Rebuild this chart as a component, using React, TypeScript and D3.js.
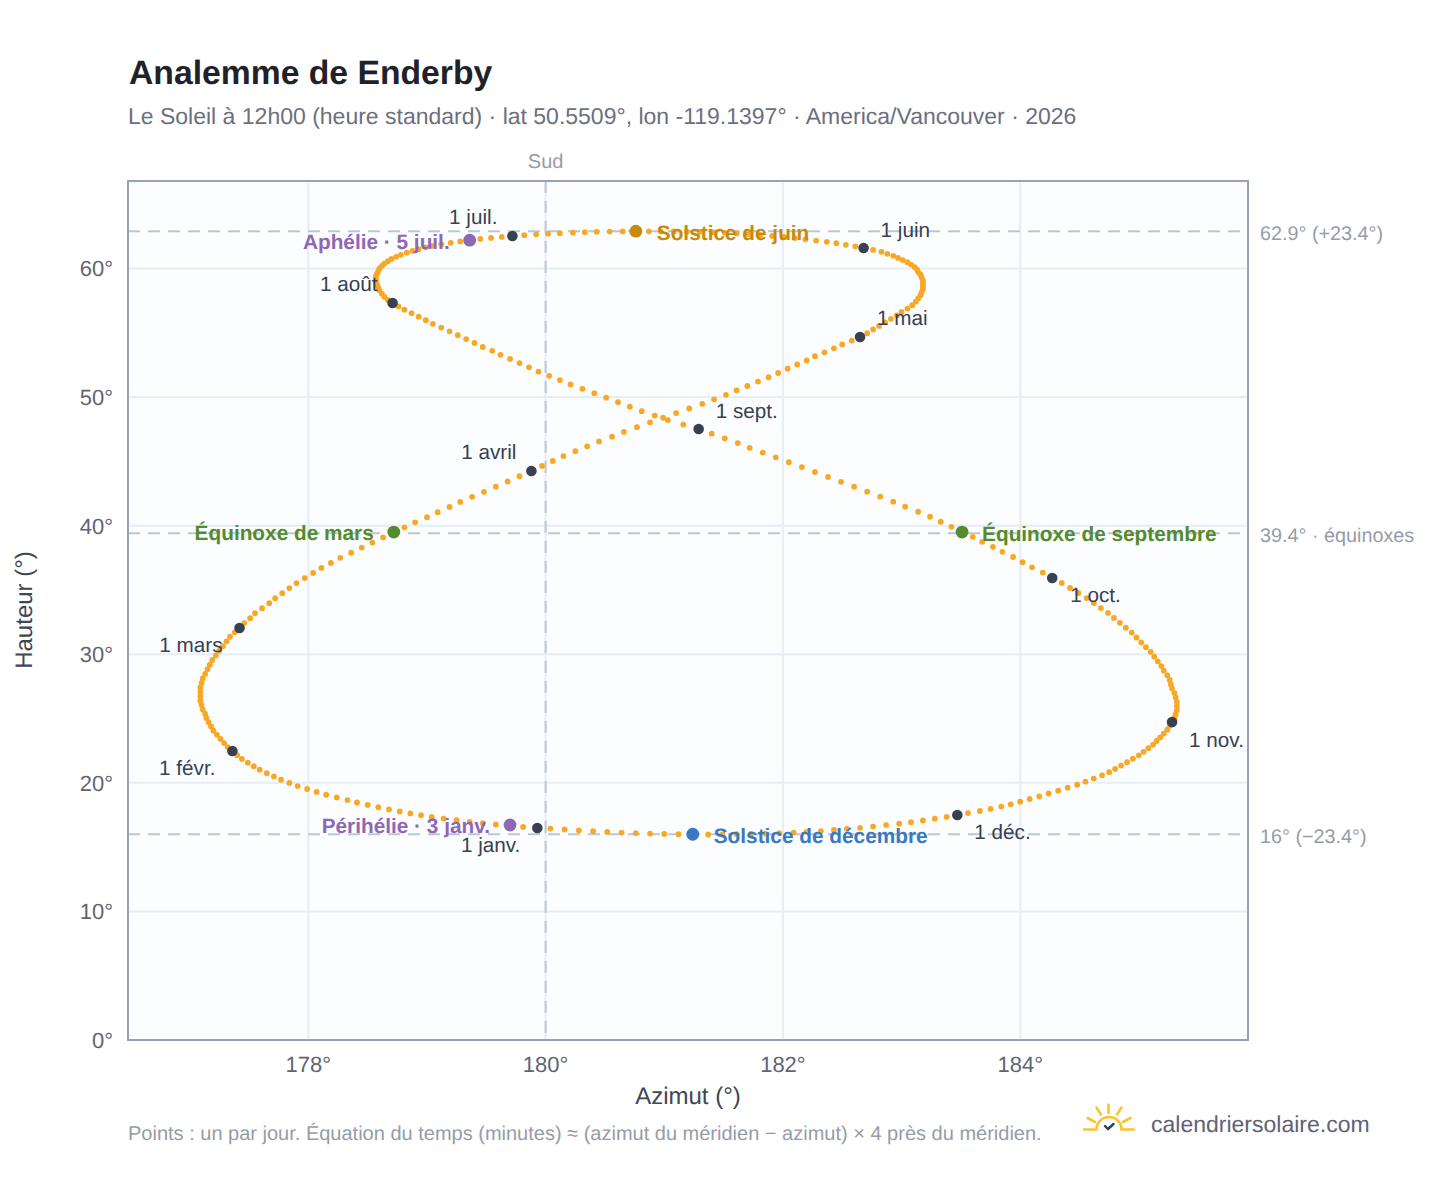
import * as d3 from 'd3';

// one reading per day, Jan 1 to Dec 31
const azimuthByMonth: number[][] = [
  [179.93,179.81,179.69,179.58,179.47,179.36,179.25,179.14,179.04,178.95,178.86,178.77,178.68,178.59,178.50,178.41,178.33,178.24,178.15,178.07,177.99,177.91,177.84,177.77,177.71,177.65,177.59,177.54,177.49,177.44,177.40],
  [177.36,177.32,177.29,177.26,177.23,177.20,177.18,177.16,177.14,177.13,177.11,177.10,177.09,177.09,177.09,177.09,177.10,177.11,177.13,177.15,177.17,177.19,177.22,177.25,177.28,177.31,177.34,177.38],
  [177.42,177.46,177.51,177.55,177.61,177.67,177.72,177.78,177.84,177.90,177.97,178.04,178.11,178.19,178.27,178.36,178.45,178.54,178.63,178.72,178.81,178.90,179.00,179.09,179.19,179.28,179.38,179.48,179.58,179.68,179.78],
  [179.88,179.97,180.06,180.15,180.25,180.35,180.45,180.56,180.66,180.77,180.88,180.99,181.10,181.21,181.32,181.42,181.52,181.61,181.70,181.79,181.88,181.96,182.04,182.12,182.20,182.27,182.35,182.43,182.50,182.58],
  [182.65,182.71,182.76,182.81,182.86,182.91,182.96,183.00,183.05,183.09,183.12,183.14,183.16,183.17,183.18,183.18,183.18,183.18,183.17,183.16,183.14,183.13,183.11,183.08,183.05,183.01,182.97,182.93,182.88,182.83,182.76],
  [182.68,182.61,182.53,182.45,182.37,182.28,182.19,182.10,182.01,181.91,181.81,181.71,181.61,181.51,181.41,181.30,181.19,181.08,180.97,180.87,180.76,180.65,180.54,180.43,180.33,180.23,180.12,180.02,179.92,179.82],
  [179.72,179.63,179.54,179.45,179.36,179.28,179.20,179.12,179.05,178.99,178.93,178.88,178.83,178.78,178.74,178.70,178.67,178.64,178.62,178.60,178.59,178.58,178.57,178.57,178.57,178.58,178.59,178.60,178.62,178.64,178.67],
  [178.71,178.76,178.81,178.87,178.93,178.99,179.05,179.12,179.19,179.26,179.33,179.40,179.47,179.55,179.62,179.70,179.78,179.86,179.94,180.03,180.12,180.21,180.31,180.41,180.51,180.61,180.71,180.81,180.92,181.03,181.16],
  [181.29,181.40,181.51,181.62,181.72,181.83,181.94,182.05,182.16,182.27,182.38,182.49,182.60,182.71,182.82,182.93,183.03,183.14,183.24,183.33,183.42,183.51,183.60,183.68,183.77,183.85,183.94,184.02,184.10,184.19],
  [184.27,184.35,184.42,184.49,184.56,184.62,184.68,184.74,184.79,184.84,184.89,184.94,184.98,185.02,185.06,185.10,185.13,185.16,185.19,185.21,185.24,185.26,185.27,185.28,185.30,185.31,185.32,185.32,185.32,185.31,185.30],
  [185.28,185.26,185.24,185.21,185.18,185.15,185.12,185.08,185.04,185.00,184.95,184.90,184.85,184.80,184.75,184.69,184.62,184.55,184.48,184.40,184.32,184.24,184.16,184.08,184.00,183.92,183.84,183.75,183.66,183.56],
  [183.47,183.38,183.28,183.18,183.08,182.98,182.87,182.76,182.65,182.54,182.43,182.32,182.20,182.09,181.97,181.85,181.73,181.61,181.49,181.37,181.24,181.12,181.00,180.88,180.76,180.64,180.52,180.40,180.28,180.16,180.04],
];

const altitudeByMonth: number[][] = [
  [16.49,16.57,16.66,16.76,16.86,16.97,17.09,17.21,17.34,17.48,17.62,17.77,17.93,18.10,18.28,18.47,18.66,18.86,19.07,19.29,19.52,19.75,19.99,20.24,20.49,20.75,21.02,21.29,21.57,21.86,22.15],
  [22.47,22.78,23.09,23.41,23.73,24.05,24.38,24.71,25.04,25.37,25.71,26.05,26.39,26.73,27.07,27.42,27.77,28.12,28.47,28.83,29.19,29.55,29.91,30.27,30.63,31.00,31.36,31.70],
  [32.04,32.42,32.80,33.19,33.58,33.97,34.36,34.75,35.14,35.53,35.92,36.32,36.71,37.10,37.50,37.89,38.29,38.68,39.08,39.47,39.87,40.26,40.66,41.05,41.45,41.84,42.24,42.63,43.03,43.43,43.84],
  [44.25,44.64,45.03,45.41,45.79,46.17,46.55,46.92,47.29,47.66,48.03,48.39,48.75,49.11,49.47,49.82,50.17,50.52,50.86,51.20,51.54,51.87,52.20,52.53,52.85,53.17,53.48,53.79,54.09,54.39],
  [54.67,54.96,55.25,55.53,55.81,56.08,56.35,56.62,56.88,57.14,57.42,57.67,57.92,58.16,58.39,58.62,58.85,59.07,59.29,59.51,59.72,59.92,60.11,60.30,60.48,60.65,60.82,60.98,61.14,61.29,61.44],
  [61.59,61.72,61.84,61.96,62.07,62.17,62.27,62.36,62.45,62.53,62.60,62.67,62.72,62.77,62.81,62.84,62.86,62.88,62.89,62.89,62.89,62.88,62.87,62.85,62.82,62.78,62.74,62.70,62.65,62.59],
  [62.52,62.45,62.37,62.29,62.20,62.10,61.99,61.88,61.76,61.64,61.50,61.36,61.22,61.06,60.90,60.74,60.56,60.38,60.20,60.01,59.81,59.61,59.40,59.19,58.97,58.74,58.51,58.28,58.04,57.80,57.55],
  [57.31,57.05,56.79,56.52,56.25,55.97,55.69,55.40,55.11,54.81,54.51,54.21,53.90,53.59,53.28,52.96,52.64,52.31,51.98,51.65,51.32,50.98,50.64,50.30,49.95,49.60,49.25,48.90,48.56,48.21,47.86],
  [47.51,47.15,46.79,46.42,46.05,45.68,45.31,44.93,44.55,44.17,43.79,43.41,43.03,42.64,42.25,41.86,41.47,41.08,40.69,40.30,39.91,39.52,39.13,38.74,38.35,37.96,37.56,37.16,36.76,36.35],
  [35.93,35.54,35.15,34.76,34.37,33.98,33.59,33.21,32.82,32.44,32.06,31.68,31.30,30.92,30.55,30.18,29.81,29.44,29.08,28.72,28.36,28.00,27.65,27.33,26.98,26.64,26.30,25.97,25.64,25.33,25.03],
  [24.73,24.43,24.13,23.83,23.54,23.25,22.97,22.69,22.41,22.14,21.87,21.60,21.34,21.08,20.83,20.58,20.33,20.09,19.85,19.62,19.39,19.17,18.95,18.74,18.53,18.33,18.15,17.97,17.81,17.65],
  [17.50,17.35,17.21,17.07,16.94,16.82,16.71,16.60,16.50,16.41,16.33,16.25,16.19,16.13,16.08,16.05,16.02,16.00,15.99,15.98,15.99,16.00,16.02,16.05,16.09,16.13,16.18,16.24,16.30,16.37,16.44],
];

const monthLabels = ['1 janv.', '1 févr.', '1 mars', '1 avril', '1 mai', '1 juin', '1 juil.', '1 août', '1 sept.', '1 oct.', '1 nov.', '1 déc.'];

const eventNames = ['Solstice de juin', 'Solstice de décembre', 'Équinoxe de mars', 'Équinoxe de septembre', 'Aphélie · 5 juil.', 'Périhélie · 3 janv.'];
const eventAzimuths = [180.76, 181.24, 178.72, 183.51, 179.36, 179.70];
const eventAltitudes = [62.9, 16.0, 39.5, 39.5, 62.2, 16.72];

const refAltitudes = [62.9, 39.4, 16];
const refLabels = ['62.9° (+23.4°)', '39.4° · équinoxes', '16° (−23.4°)'];

const xTickValues = [178, 180, 182, 184];
const yTickValues = [0, 10, 20, 30, 40, 50, 60];

// label placement, relative to the dot
const monthOffsets: [number, number, string][] = [
  [-17, 24, 'end'], [-17, 24, 'end'], [-17, 24, 'end'], [-15, -12, 'end'],
  [17, -12, 'start'], [17, -11, 'start'], [-15, -12, 'end'], [-15, -12, 'end'],
  [17, -11, 'start'], [18, 24, 'start'], [17, 25, 'start'], [17, 24, 'start'],
];
const eventStyles: [string, number, number, string][] = [
  ['#c98a0b', 21, 9, 'start'], ['#3a78c2', 21, 9, 'start'], ['#558b2f', -20, 8, 'end'],
  ['#558b2f', 20, 9, 'start'], ['#8e67b5', -20, 9, 'end'], ['#8e67b5', -20, 8, 'end'],
];

const FONT = '"Liberation Sans", Arial, sans-serif';
const left = 128, right = 1248, top = 181, bottom = 1040;

export default function App() {
  const x = d3.scaleLinear().domain([176.48, 185.92]).range([left, right]);
  const y = d3.scaleLinear().domain([0, 66.8]).range([bottom, top]);

  const days = azimuthByMonth.flatMap((m, i) => m.map((az, j) => ({ az, alt: altitudeByMonth[i][j] })));
  const firsts = azimuthByMonth.map((m, i) => ({ az: m[0], alt: altitudeByMonth[i][0], label: monthLabels[i] }));

  return (
    <svg width={1448} height={1188} style={{ position: 'absolute', left: 0, top: 0, background: '#fff' }}
      fontFamily={FONT} textRendering="geometricPrecision">
      <text x={129} y={84} fontSize={33.7} fontWeight={700} fill="#1f2229">Analemme de Enderby</text>
      <text x={128} y={124} fontSize={23} fill="#6b6f80">
        Le Soleil à 12h00 (heure standard) · lat 50.5509°, lon -119.1397° · America/Vancouver · 2026
      </text>

      <rect x={left} y={top} width={right - left} height={bottom - top} fill="#fbfdff" />

      {xTickValues.map(t => (
        <line key={t} x1={x(t)} x2={x(t)} y1={top} y2={bottom} stroke="#e7edf4" strokeWidth={2} />
      ))}
      {yTickValues.map(t => (
        <line key={t} x1={left} x2={right} y1={y(t)} y2={y(t)} stroke="#e7edf4" strokeWidth={2} />
      ))}

      {refAltitudes.map((a, i) => (
        <g key={a}>
          <line x1={left} x2={right} y1={y(a)} y2={y(a)} stroke="#bcc7d4" strokeWidth={2} strokeDasharray="12 8" />
          <text x={1260} y={y(a) + 8.5} fontSize={19.8} fill="#969ca8">{refLabels[i]}</text>
        </g>
      ))}
      <line x1={x(180)} x2={x(180)} y1={top} y2={bottom} stroke="#bcc7d4" strokeWidth={2} strokeDasharray="12 8" />
      <text x={x(180)} y={168} fontSize={20} fill="#969ca8" textAnchor="middle">Sud</text>

      <rect x={left} y={top} width={right - left} height={bottom - top} fill="none" stroke="#97a3b4" strokeWidth={2} />

      {xTickValues.map(t => (
        <text key={t} x={x(t)} y={1072} fontSize={22} fill="#5f6673" textAnchor="middle">{t}°</text>
      ))}
      {yTickValues.map(t => (
        <text key={t} x={113} y={y(t) + 8} fontSize={22} fill="#5f6673" textAnchor="end">{t}°</text>
      ))}
      <text x={688} y={1104} fontSize={24} fill="#3f4654" textAnchor="middle">Azimut (°)</text>
      <text transform="translate(32,610) rotate(-90)" fontSize={24} fill="#3f4654" textAnchor="middle">Hauteur (°)</text>

      {days.map((d, i) => (
        <circle key={i} cx={x(d.az)} cy={y(d.alt)} r={2.9} fill="#f9a825" />
      ))}

      {firsts.map(f => (
        <circle key={f.label} cx={x(f.az)} cy={y(f.alt)} r={5.3} fill="#374151" />
      ))}
      {eventNames.map((n, i) => (
        <circle key={n} cx={x(eventAzimuths[i])} cy={y(eventAltitudes[i])} r={6.4} fill={eventStyles[i][0]} />
      ))}

      {firsts.map((f, i) => (
        <text key={f.label} x={x(f.az) + monthOffsets[i][0]} y={y(f.alt) + monthOffsets[i][1]}
          fontSize={20.7} fill="#374151" textAnchor={monthOffsets[i][2]}>{f.label}</text>
      ))}
      {eventNames.map((n, i) => (
        <text key={n} x={x(eventAzimuths[i]) + eventStyles[i][1]} y={y(eventAltitudes[i]) + eventStyles[i][2]}
          fontSize={20.8} fontWeight={700} fill={eventStyles[i][0]} textAnchor={eventStyles[i][3]}>{n}</text>
      ))}

      <text x={128} y={1140} fontSize={20} fill="#969ca8">
        Points : un par jour. Équation du temps (minutes) ≈ (azimut du méridien − azimut) × 4 près du méridien.
      </text>

      <g fill="none" stroke="#f9c430" strokeWidth={2.6} strokeLinecap="round">
        <path d="M1084 1129.5H1096.5A12.5 12.5 0 0 1 1121.5 1129.5H1134" />
        <path d="M1108.5 1104.5V1113M1096.5 1107.5L1101 1114.5M1121.5 1107.5L1117 1114.5M1087.5 1118L1095 1122M1130.5 1118L1123 1122" />
      </g>
      <path d="M1105 1126L1108 1129L1113.5 1124" fill="none" stroke="#27405e" strokeWidth={2.4} strokeLinecap="round" />
      <text x={1151} y={1132} fontSize={23} fill="#5f6275">calendriersolaire.com</text>
    </svg>
  );
}
